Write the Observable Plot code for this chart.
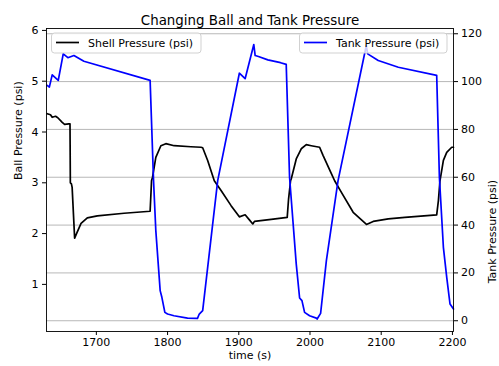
<!DOCTYPE html>
<html><head><meta charset="utf-8">
<script src="https://cdn.jsdelivr.net/npm/d3@7"></script>
<script src="https://cdn.jsdelivr.net/npm/@observablehq/plot@0.6"></script>
<style>body{margin:0;background:#fff}</style>
</head><body><div id="chart"></div>
<script>
const tankTime = [1631,1634,1638,1646.5,1653.5,1660,1668.5,1682.5,1775.5,1780.3,1783.5,1789.6,1792,1796.2,1800,1809,1828,1842,1844.5,1849.3,1870.4,1900.8,1908.9,1921.1,1923,1927.6,1940.8,1958.6,1966.6,1971.3,1980.7,1985.4,1988.7,1992.4,1999.4,2008.9,2010,2014.9,2023,2039.4,2079,2081,2095.8,2124,2177.9,2181.7,2187.3,2192,2196.6,2201.5];
const tankPsi = [98.4,97.7,102.8,100.5,111.6,110,110.9,108.5,100.5,58.6,37.7,12.6,9.8,3.5,2.8,2.1,1.1,1.0,2.8,4.2,58.6,103.5,101.2,115.5,110.9,110.5,109.1,107.9,107.2,60,23.7,9.5,8.4,3.5,2.1,1.1,0.7,3.1,25.1,58.6,115,111.6,108.8,106,102.6,60,30.7,18.1,7,4.9];
const ballTime = [1631,1635.6,1638,1642.7,1645.9,1652.1,1655.4,1661.4,1663,1663.5,1665,1666,1669.5,1672.8,1678.5,1687.3,1701.4,1738.9,1775.5,1777.5,1778.9,1783.5,1790.6,1797.6,1809.3,1832.8,1846.9,1849.3,1856.3,1865.6,1875.1,1889.2,1900.8,1908.9,1914.9,1919.7,1922,1945.5,1968,1969.9,1972.7,1973.7,1980.7,1987.7,1994.8,2001.8,2013.5,2018.3,2030,2034.6,2044.1,2060.6,2079.3,2088.7,2109.9,2133.2,2177.9,2180.3,2182.5,2187.3,2192,2199,2201.5];
const ballPsi = [4.36,4.34,4.29,4.31,4.28,4.19,4.15,4.16,4.16,3.0,2.98,2.91,1.91,2.02,2.2,2.31,2.35,2.4,2.44,3.04,3.11,3.5,3.73,3.77,3.73,3.71,3.70,3.69,3.44,3.04,2.85,2.55,2.33,2.37,2.27,2.19,2.24,2.28,2.32,2.68,3.04,3.08,3.47,3.67,3.75,3.73,3.70,3.54,3.18,3.04,2.81,2.42,2.18,2.24,2.29,2.32,2.37,2.65,3.04,3.44,3.60,3.70,3.70];
const xTicks = [1700,1800,1900,2000,2100,2200];
const ballTicks = [1,2,3,4,5,6];
const tankTicks = [0,20,40,60,80,100,120];
const title = "Changing Ball and Tank Pressure";
const xLabel = "time (s)";
const leftLabel = "Ball Pressure (psi)";
const rightLabel = "Tank Pressure (psi)";
const ballName = "Shell Pressure (psi)";
const tankName = "Tank Pressure (psi)";

// ball (left axis) -> tank (right axis) coordinates
const toTank = b => -6.04 + 21.24 * b;
const fromTank = t => (t + 6.04) / 21.24;

const font = "DejaVu Sans";
const chart = Plot.plot({
  width: 499, height: 366,
  marginTop: 28, marginBottom: 35, marginLeft: 46, marginRight: 46,
  style: {fontFamily: font, fontSize: "11px", color: "black", background: "white"},
  x: {domain: [1630, 2201.5]},
  y: {domain: [-4.5, 122.2]},
  marks: [
    Plot.gridY(tankTicks, {stroke: "#b0b0b0", strokeOpacity: 1, strokeWidth: 0.9}),
    Plot.line(ballPsi, {x: ballTime, y: ballPsi.map(toTank), stroke: "black", strokeWidth: 1.7}),
    Plot.line(tankPsi, {x: tankTime, y: tankPsi, stroke: "blue", strokeWidth: 1.7}),
    Plot.frame({stroke: "black", strokeWidth: 0.9}),
    Plot.axisX(xTicks, {tickSize: 4, tickPadding: 3, label: null, fontSize: 11, tickFormat: d => String(d)}),
    Plot.axisY(ballTicks.map(toTank), {anchor: "left", tickSize: 4, tickPadding: 4, label: null, fontSize: 11, tickFormat: t => String(Math.round(fromTank(t)))}),
    Plot.axisY(tankTicks, {anchor: "right", tickSize: 4, tickPadding: 3.5, label: null, fontSize: 11, tickFormat: d => String(d)}),
    Plot.text([title], {frameAnchor: "top", dy: -13, fontSize: 13.4, text: d => d}),
    Plot.text([xLabel], {frameAnchor: "bottom", dy: 27, fontSize: 11, text: d => d}),
    Plot.text([leftLabel], {frameAnchor: "left", dx: -28, rotate: -90, fontSize: 11, text: d => d}),
    Plot.text([rightLabel], {frameAnchor: "right", dx: 39, rotate: -90, fontSize: 11, text: d => d})
  ]
});
document.getElementById("chart").appendChild(chart);

// legends
const svg = d3.select(chart);
function legend(x0, x1, name, color) {
  const g = svg.append("g").attr("font-family", font).attr("font-size", 11).attr("text-anchor", "start");
  g.append("rect").attr("x", x0).attr("y", 33).attr("width", x1 - x0).attr("height", 20)
    .attr("rx", 3).attr("fill", "white").attr("fill-opacity", 0.8).attr("stroke", "#cccccc").attr("stroke-width", 0.9);
  g.append("line").attr("x1", x0 + 4.5).attr("x2", x0 + 27.5).attr("y1", 42.5).attr("y2", 42.5)
    .attr("stroke", color).attr("stroke-width", 1.7);
  g.append("text").attr("x", x0 + 36.5).attr("y", 43).attr("dy", "0.35em").attr("fill", "black")
    .attr("text-anchor", "start").text(name);
}
legend(51.5, 201, ballName, "black");
legend(299.5, 447, tankName, "blue");
</script>
</body></html>
